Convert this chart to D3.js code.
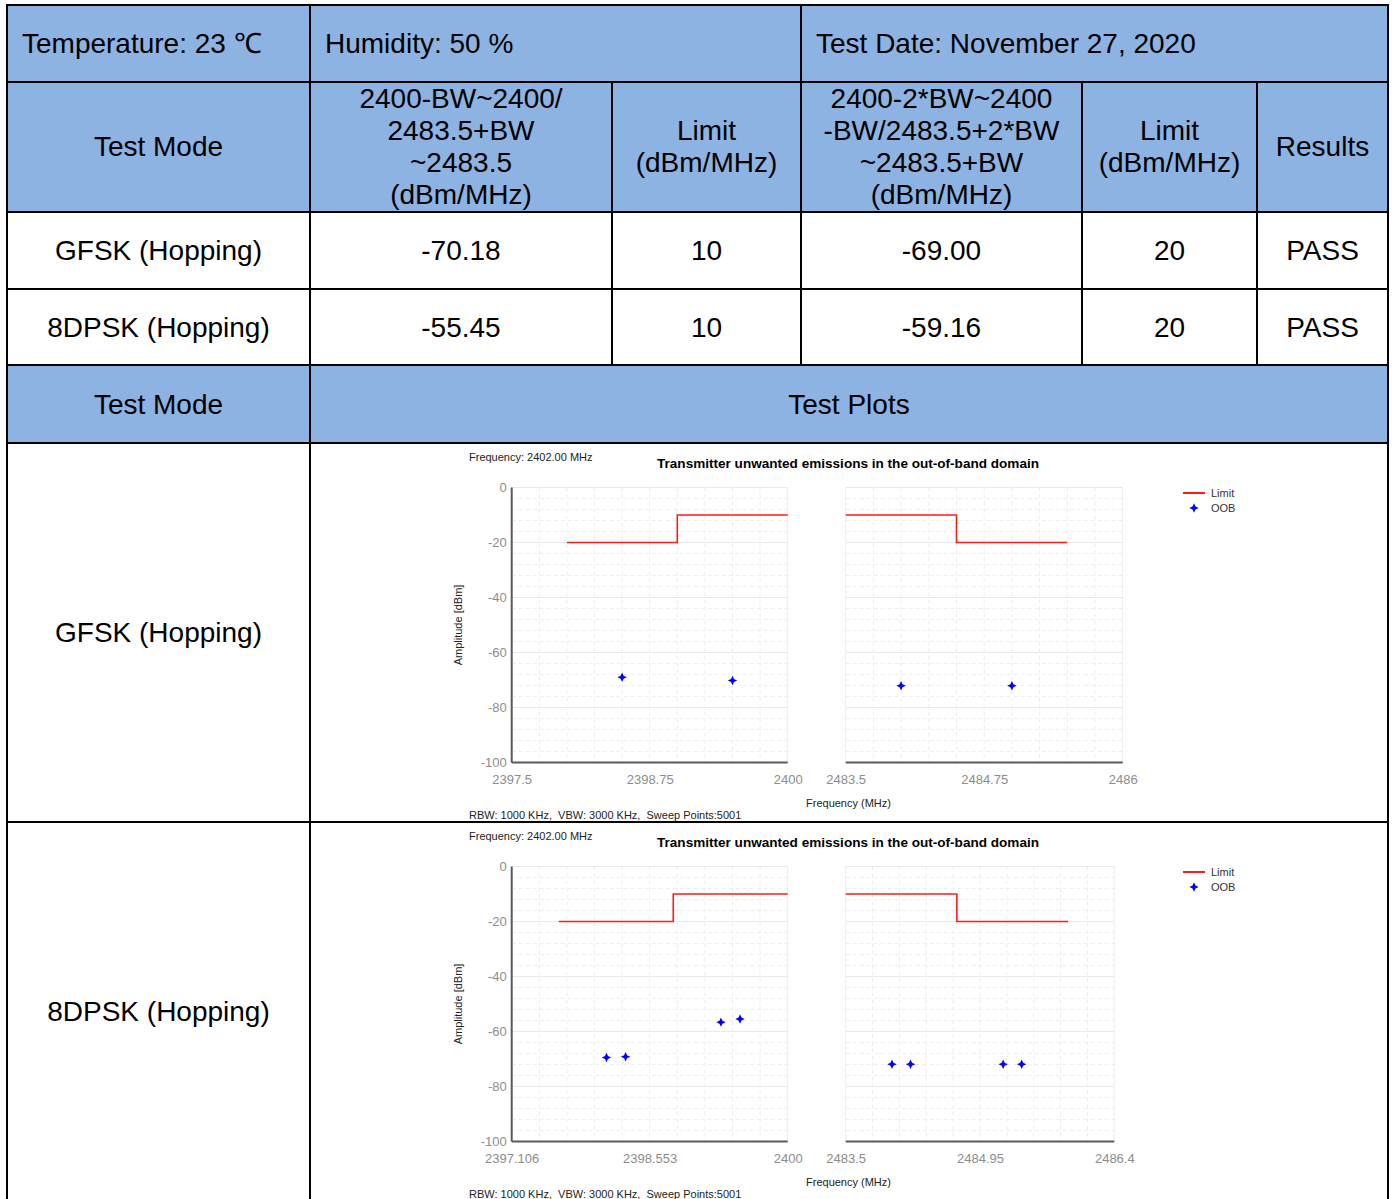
<!DOCTYPE html>
<html>
<head>
<meta charset="utf-8">
<script src="https://cdn.jsdelivr.net/npm/d3@7/dist/d3.min.js"></script>
<style>
  html, body { margin: 0; padding: 0; background: #ffffff; }
  svg { display: block; }
</style>
</head>
<body>
<script>
// ---- Test conditions ----
const conditions = ["Temperature: 23 ℃", "Humidity: 50 %", "Test Date: November 27, 2020"];

// ---- Summary table ----
const summaryHeaders = [
  ["Test Mode"],
  ["2400-BW~2400/", "2483.5+BW", "~2483.5", "(dBm/MHz)"],
  ["Limit", "(dBm/MHz)"],
  ["2400-2*BW~2400", "-BW/2483.5+2*BW", "~2483.5+BW", "(dBm/MHz)"],
  ["Limit", "(dBm/MHz)"],
  ["Results"]
];
const modes = ["GFSK (Hopping)", "8DPSK (Hopping)"];
const bandEdgeValues = ["-70.18", "-55.45"];
const bandEdgeLimits = ["10", "10"];
const outerBandValues = ["-69.00", "-59.16"];
const outerBandLimits = ["20", "20"];
const results = ["PASS", "PASS"];

// ---- Plot texts ----
const plotHeading = "Frequency: 2402.00 MHz";
const plotTitle = "Transmitter unwanted emissions in the out-of-band domain";
const plotFooter = "RBW: 1000 KHz,  VBW: 3000 KHz,  Sweep Points:5001";
const amplitudeTicks = [0, -20, -40, -60, -80, -100];
const legendItems = ["Limit", "OOB"];

// ---- GFSK plot data ----
const gfskLowDomain = [2397.5, 2400];
const gfskLowTicks = [2397.5, 2398.75, 2400];
const gfskLowTickLabels = ["2397.5", "2398.75", "2400"];
const gfskLowLimit = [[2398, -20], [2399, -20], [2399, -10], [2400, -10]];
const gfskLowOob = [[2398.5, -69.00], [2399.5, -70.18]];
const gfskHighDomain = [2483.5, 2486];
const gfskHighTicks = [2483.5, 2484.75, 2486];
const gfskHighTickLabels = ["2483.5", "2484.75", "2486"];
const gfskHighLimit = [[2483.5, -10], [2484.5, -10], [2484.5, -20], [2485.5, -20]];
const gfskHighOob = [[2484.0, -72.1], [2485.0, -72.1]];

// ---- 8DPSK plot data ----
const dpskLowDomain = [2397.106, 2400];
const dpskLowTicks = [2397.106, 2398.553, 2400];
const dpskLowTickLabels = ["2397.106", "2398.553", "2400"];
const dpskLowLimit = [[2397.6, -20], [2398.8, -20], [2398.8, -10], [2400, -10]];
const dpskLowOob = [[2398.1, -69.45], [2398.3, -69.2], [2399.3, -56.6], [2399.5, -55.45]];
const dpskHighDomain = [2483.5, 2486.4];
const dpskHighTicks = [2483.5, 2484.95, 2486.4];
const dpskHighTickLabels = ["2483.5", "2484.95", "2486.4"];
const dpskHighLimit = [[2483.5, -10], [2484.7, -10], [2484.7, -20], [2485.9, -20]];
const dpskHighOob = [[2484.0, -71.9], [2484.2, -71.9], [2485.2, -71.9], [2485.4, -71.9]];

const FONT = "'Liberation Sans', Arial, Helvetica, sans-serif";
const HEADER_FILL = "#8db3e2";
const W = 1393, H = 1199;

const svg = d3.select("body").append("svg")
  .attr("width", W).attr("height", H)
  .style("font-family", FONT);

// ---------- Table layout ----------
const colX = [7, 310, 612, 801, 1082, 1257, 1388];
const rowY = [5, 82, 212, 289, 365, 443, 822];
const colCenter = i => (colX[i] + colX[i + 1]) / 2;
const FS = 28;

const table = svg.append("g");
// header fills
table.append("rect").attr("x", 7).attr("y", 5).attr("width", 1381).attr("height", 212 - 5).attr("fill", HEADER_FILL);
table.append("rect").attr("x", 7).attr("y", 365).attr("width", 1381).attr("height", 443 - 365).attr("fill", HEADER_FILL);

function cellText(x, cy, str, anchor) {
  table.append("text")
    .attr("x", x).attr("y", cy + FS * 0.355)
    .attr("text-anchor", anchor || "middle")
    .attr("font-size", FS).attr("fill", "#000")
    .text(str);
}

// condition row
cellText(22, 43, conditions[0], "start");
cellText(325, 43, conditions[1], "start");
cellText(816, 43, conditions[2], "start");

// column headers (multi-line)
summaryHeaders.forEach((lines, i) => {
  const cy0 = 146 - (lines.length - 1) * 16;
  lines.forEach((ln, k) => cellText(colCenter(i), cy0 + k * 32, ln));
});

// data rows
const rowCenters = [250, 327];
modes.forEach((m, r) => {
  const cy = rowCenters[r];
  cellText(colCenter(0), cy, m);
  cellText(colCenter(1), cy, bandEdgeValues[r]);
  cellText(colCenter(2), cy, bandEdgeLimits[r]);
  cellText(colCenter(3), cy, outerBandValues[r]);
  cellText(colCenter(4), cy, outerBandLimits[r]);
  cellText(colCenter(5), cy, results[r]);
});

// plots header row
cellText(colCenter(0), 404, "Test Mode");
cellText((310 + 1388) / 2, 404, "Test Plots");
cellText(colCenter(0), 632, modes[0]);
cellText(colCenter(0), 1011, modes[1]);

// ---------- Plots ----------
const defs = svg.append("defs");
defs.append("clipPath").attr("id", "clipPlot0")
  .append("rect").attr("x", 311).attr("y", 444).attr("width", 1076).attr("height", 377);
defs.append("clipPath").attr("id", "clipPlot1")
  .append("rect").attr("x", 311).attr("y", 823).attr("width", 1076).attr("height", 376);

// four-point star marker
const star4 = {
  draw(ctx, size) {
    const r = Math.sqrt(size);
    const i = r * 0.32;
    ctx.moveTo(0, -r);
    ctx.lineTo(i, -i);
    ctx.lineTo(r, 0);
    ctx.lineTo(i, i);
    ctx.lineTo(0, r);
    ctx.lineTo(-i, i);
    ctx.lineTo(-r, 0);
    ctx.lineTo(-i, -i);
    ctx.closePath();
  }
};
const starPath = d3.symbol().type(star4).size(22)();

const plots = [
  {
    top: 443, clip: "clipPlot0",
    panels: [
      { x0: 511.7, x1: 787.7, domain: gfskLowDomain, ticks: gfskLowTicks, labels: gfskLowTickLabels, limit: gfskLowLimit, oob: gfskLowOob, yAxis: true },
      { x0: 845.7, x1: 1122.7, domain: gfskHighDomain, ticks: gfskHighTicks, labels: gfskHighTickLabels, limit: gfskHighLimit, oob: gfskHighOob, yAxis: false }
    ]
  },
  {
    top: 822, clip: "clipPlot1",
    panels: [
      { x0: 511.7, x1: 787.7, domain: dpskLowDomain, ticks: dpskLowTicks, labels: dpskLowTickLabels, limit: dpskLowLimit, oob: dpskLowOob, yAxis: true },
      { x0: 845.7, x1: 1114.3, domain: dpskHighDomain, ticks: dpskHighTicks, labels: dpskHighTickLabels, limit: dpskHighLimit, oob: dpskHighOob, yAxis: false }
    ]
  }
];

plots.forEach(p => {
  const oy = p.top;
  const g = svg.append("g").attr("clip-path", `url(#${p.clip})`);
  const y = d3.scaleLinear().domain([-100, 0]).range([oy + 319.5, oy + 44.5]);

  p.panels.forEach(pn => {
    const x = d3.scaleLinear().domain(pn.domain).range([pn.x0, pn.x1]);
    const pg = g.append("g");

    // horizontal grid: every 4 dB, solid at 20 dB steps
    d3.range(0, -101, -4).forEach(v => {
      const major = v % 20 === 0;
      pg.append("line")
        .attr("x1", pn.x0).attr("x2", pn.x1)
        .attr("y1", y(v)).attr("y2", y(v))
        .attr("stroke", major ? "#e9e9e9" : "#eeeeee")
        .attr("stroke-width", 1)
        .attr("stroke-dasharray", major ? null : "4,3");
    });
    // vertical grid: ten divisions across the span
    d3.range(0, 11).forEach(k => {
      const xv = x.range()[0] + k * (x.range()[1] - x.range()[0]) / 10;
      pg.append("line")
        .attr("x1", xv).attr("x2", xv)
        .attr("y1", y(0)).attr("y2", y(-100))
        .attr("stroke", "#ececec")
        .attr("stroke-width", 1)
        .attr("stroke-dasharray", k === 0 || k === 10 ? null : "4,3");
    });

    // axis lines
    pg.append("line")
      .attr("x1", pn.x0).attr("x2", pn.x1)
      .attr("y1", y(-100)).attr("y2", y(-100))
      .attr("stroke", "#5a5a5a").attr("stroke-width", 2);
    if (pn.yAxis) {
      pg.append("line")
        .attr("x1", pn.x0).attr("x2", pn.x0)
        .attr("y1", y(0)).attr("y2", y(-100))
        .attr("stroke", "#5a5a5a").attr("stroke-width", 2);
      const ya = pg.append("g").attr("transform", `translate(${pn.x0},0)`)
        .call(d3.axisLeft(y).tickValues(amplitudeTicks).tickFormat(d => String(d)).tickSize(0).tickPadding(5));
      ya.select(".domain").remove();
      ya.selectAll("text").attr("font-size", 13).attr("fill", "#8c8c8c").attr("font-family", FONT);
    }

    // frequency tick labels
    const xa = pg.append("g").attr("transform", `translate(0,${y(-100)})`)
      .call(d3.axisBottom(x).tickValues(pn.ticks).tickFormat((d, i) => pn.labels[i]).tickSize(0).tickPadding(12));
    xa.select(".domain").remove();
    xa.selectAll("text").attr("font-size", 13).attr("fill", "#8c8c8c").attr("font-family", FONT);

    // limit line
    pg.append("path")
      .datum(pn.limit)
      .attr("d", d3.line().x(d => x(d[0])).y(d => y(d[1])))
      .attr("fill", "none").attr("stroke", "#ff1a1a").attr("stroke-width", 1.6);

    // OOB measurement points
    pg.selectAll("path.oob").data(pn.oob).join("path")
      .attr("class", "oob")
      .attr("d", starPath)
      .attr("transform", d => `translate(${x(d[0])},${y(d[1])})`)
      .attr("fill", "#0000ff");
  });

  // texts
  g.append("text").attr("x", 469).attr("y", oy + 18)
    .attr("font-size", 11).attr("fill", "#222").text(plotHeading);
  g.append("text").attr("x", 848).attr("y", oy + 24.5)
    .attr("text-anchor", "middle").attr("font-size", 13).attr("font-weight", "bold")
    .attr("fill", "#000").attr("textLength", 382).attr("lengthAdjust", "spacingAndGlyphs")
    .text(plotTitle);
  g.append("text")
    .attr("transform", `translate(${462},${oy + 182}) rotate(-90)`)
    .attr("text-anchor", "middle").attr("font-size", 11).attr("fill", "#222")
    .text("Amplitude [dBm]");
  g.append("text").attr("x", 848.5).attr("y", oy + 364)
    .attr("text-anchor", "middle").attr("font-size", 11).attr("fill", "#222")
    .text("Frequency (MHz)");
  g.append("text").attr("x", 469).attr("y", oy + 376)
    .attr("font-size", 11).attr("fill", "#222")
    .style("white-space", "pre")
    .text(plotFooter);

  // legend
  const lg = g.append("g");
  lg.append("line").attr("x1", 1183).attr("x2", 1205)
    .attr("y1", oy + 50).attr("y2", oy + 50)
    .attr("stroke", "#ff1a1a").attr("stroke-width", 2);
  lg.append("path").attr("d", starPath)
    .attr("transform", `translate(1194,${oy + 65})`).attr("fill", "#0000ff");
  legendItems.forEach((t, i) => {
    lg.append("text").attr("x", 1211).attr("y", oy + 54 + i * 14.5)
      .attr("font-size", 11).attr("fill", "#333").text(t);
  });
});

// ---------- Table borders ----------
const borders = svg.append("g").attr("stroke", "#000").attr("stroke-width", 2);
rowY.forEach(yv => {
  borders.append("line").attr("x1", 6).attr("x2", 1389).attr("y1", yv).attr("y2", yv);
});
[7, 310, 1388].forEach(xv => {
  borders.append("line").attr("x1", xv).attr("x2", xv).attr("y1", 4).attr("y2", H);
});
borders.append("line").attr("x1", 801).attr("x2", 801).attr("y1", 5).attr("y2", 365);
[612, 1082, 1257].forEach(xv => {
  borders.append("line").attr("x1", xv).attr("x2", xv).attr("y1", 82).attr("y2", 365);
});
</script>
</body>
</html>
